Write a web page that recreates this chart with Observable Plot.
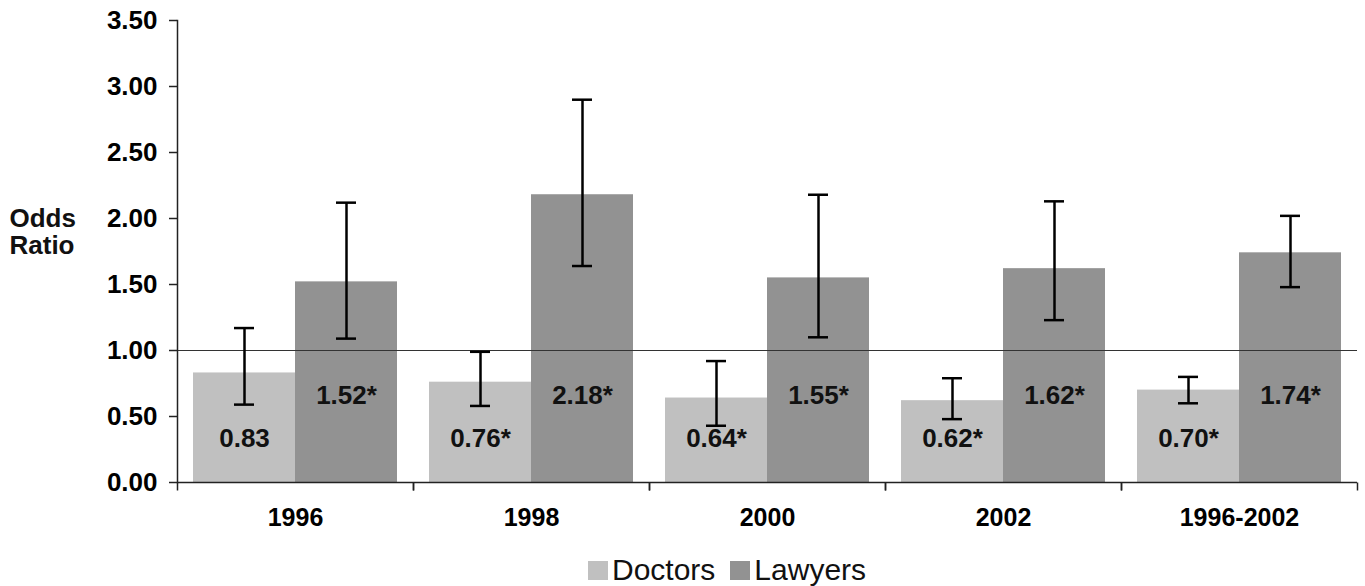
<!DOCTYPE html>
<html><head><meta charset="utf-8">
<script src="https://cdn.jsdelivr.net/npm/d3@7"></script>
<script src="https://cdn.jsdelivr.net/npm/@observablehq/plot@0.6"></script>
<style>
body{margin:0;background:#fff;font-family:"Liberation Sans",Arial,sans-serif;}
#legend{display:flex;align-items:center;margin-left:588px;font-size:30px;color:#111;height:40px}
.item{display:flex;align-items:center;margin-right:15px}
.sw{display:inline-block;width:20px;height:19px;margin-right:4px}
</style></head><body><div id="chart"></div><div id="legend"></div>
<script>
const years = ["1996", "1998", "2000", "2002", "1996-2002"];
const groups = ["Doctors", "Lawyers"];
const doctors = [0.83, 0.76, 0.64, 0.62, 0.70];
const doctorsLow = [0.59, 0.58, 0.43, 0.48, 0.60];
const doctorsHigh = [1.17, 0.99, 0.92, 0.79, 0.80];
const doctorLabels = ["0.83", "0.76*", "0.64*", "0.62*", "0.70*"];
const lawyers = [1.52, 2.18, 1.55, 1.62, 1.74];
const lawyersLow = [1.09, 1.64, 1.10, 1.23, 1.48];
const lawyersHigh = [2.12, 2.90, 2.18, 2.13, 2.02];
const lawyerLabels = ["1.52*", "2.18*", "1.55*", "1.62*", "1.74*"];
const yTicks = [0, 0.5, 1, 1.5, 2, 2.5, 3, 3.5];
const colors = ["#c0c0c0", "#929292"];

const rows = years.flatMap((year, i) => [
  {year, group: groups[0], value: doctors[i], lo: doctorsLow[i], hi: doctorsHigh[i], label: doctorLabels[i]},
  {year, group: groups[1], value: lawyers[i], lo: lawyersLow[i], hi: lawyersHigh[i], label: lawyerLabels[i]}
]);
const tickSymbol = {draw(ctx) { ctx.moveTo(0, 0); ctx.lineTo(0, 8); }};
const font = '"Liberation Sans", Arial, sans-serif';

const chart = Plot.plot({
  width: 1365, height: 550,
  marginLeft: 175, marginRight: 7, marginTop: 20, marginBottom: 68,
  style: {fontFamily: font, color: "#000", background: "#fff"},
  fx: {domain: years, padding: 0, axis: null},
  x: {domain: groups, paddingInner: 0, paddingOuter: 0.154, axis: null},
  y: {domain: [0, 3.5], axis: null},
  color: {domain: groups, range: colors},
  marks: [
    Plot.barY(rows, {fx: "year", x: "group", y: "value", fill: "group"}),
    Plot.ruleY([1], {stroke: "#333", strokeWidth: 1.2}),
    Plot.ruleY([0], {stroke: "#222", strokeWidth: 1.5}),
    Plot.frame({anchor: "left", facetAnchor: "left", stroke: "#222", strokeWidth: 1.5}),
    Plot.dot(years, {fx: d => d, frameAnchor: "bottom-right", symbol: tickSymbol, stroke: "#222", strokeWidth: 1.5}),
    Plot.dot(years, {fx: d => d, frameAnchor: "bottom-left", symbol: tickSymbol, stroke: "#222", strokeWidth: 1.5}),
    Plot.ruleX(rows, {fx: "year", x: "group", y1: "lo", y2: "hi", stroke: "#000", strokeWidth: 2.5}),
    Plot.tickY(rows, {fx: "year", x: "group", y: "lo", insetLeft: 41, insetRight: 41, stroke: "#000", strokeWidth: 2.5}),
    Plot.tickY(rows, {fx: "year", x: "group", y: "hi", insetLeft: 41, insetRight: 41, stroke: "#000", strokeWidth: 2.5}),
    Plot.text(rows.filter(d => d.group === groups[0]), {fx: "year", x: "group", frameAnchor: "bottom", dy: -36, text: "label", fontSize: 26, fontWeight: "bold", fill: "#111"}),
    Plot.text(rows.filter(d => d.group === groups[1]), {fx: "year", x: "group", frameAnchor: "bottom", dy: -79, text: "label", fontSize: 26, fontWeight: "bold", fill: "#111"}),
    Plot.axisY({ticks: yTicks, tickFormat: d3.format(".2f"), tickSize: 8, tickPadding: 12, fontSize: 26, fontWeight: "bold", label: null, stroke: "#222", strokeWidth: 1.5}),
    Plot.axisFx({anchor: "bottom", tickSize: 0, tickPadding: 26, fontSize: 25, fontWeight: "bold", label: null}),
    Plot.text(["Odds\nRatio"], {frameAnchor: "left", facetAnchor: "left", textAnchor: "start", dx: -168, dy: -20, lineHeight: 1.05, fontSize: 26, fontWeight: "bold", fill: "#111"})
  ]
});
document.getElementById("chart").append(chart);

const legend = document.getElementById("legend");
groups.forEach((g, i) => {
  const item = document.createElement("span");
  item.className = "item";
  const sw = document.createElement("span");
  sw.className = "sw";
  sw.style.background = colors[i];
  item.append(sw, document.createTextNode(g));
  legend.append(item);
});
</script></body></html>
